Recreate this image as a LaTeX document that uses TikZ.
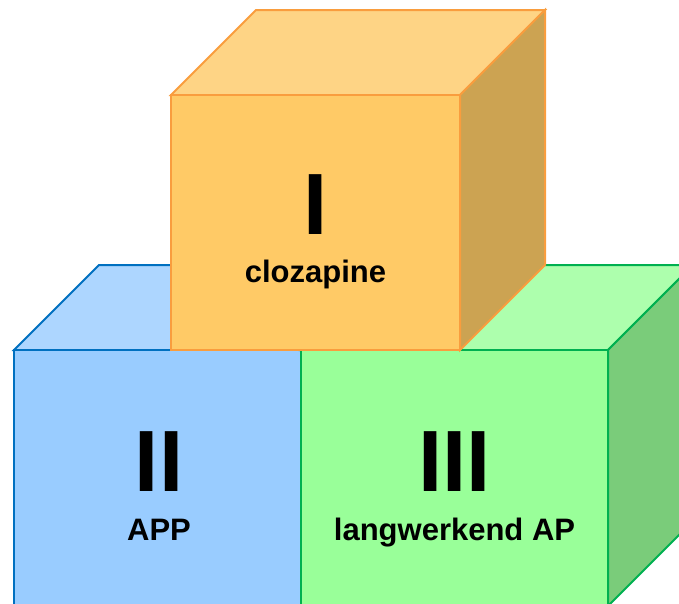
\documentclass[tikz,border=0pt]{standalone}
\usepackage{fontspec}
\setmainfont{Liberation Sans}
\definecolor{ofront}{HTML}{FFCA66}
\definecolor{otop}{HTML}{FED485}
\definecolor{oside}{HTML}{CCA352}
\definecolor{oline}{HTML}{F99D3E}
\definecolor{bfront}{HTML}{99CCFF}
\definecolor{btop}{HTML}{ADD6FF}
\definecolor{bline}{HTML}{0070C0}
\definecolor{gfront}{HTML}{99FF99}
\definecolor{gtop}{HTML}{ADFFAD}
\definecolor{gside}{HTML}{7ACC7A}
\definecolor{gline}{HTML}{00B050}
\tikzset{
  face/.style={line width=2pt, line join=miter},
  numeral/.style={font=\fontsize{87}{87}\selectfont\bfseries, anchor=base, inner sep=0pt},
  label/.style={font=\fontsize{31}{31}\selectfont\bfseries, anchor=base, inner sep=0pt}
}
\begin{document}
\begin{tikzpicture}[x=1pt,y=-1pt]
\useasboundingbox (0,0) rectangle (679,603);
\clip (0,0) rectangle (679,603);
% blue cube (II)
\draw[face, draw=bline, fill=btop] (14,350) -- (99,265) -- (388,265) -- (303,350) -- cycle;
\draw[face, draw=bline, fill=bfront] (14,350) rectangle (303,606);
% green cube (III)
\draw[face, draw=gline, fill=gtop] (301,350) -- (386,265) -- (693,265) -- (608,350) -- cycle;
\draw[face, draw=gline, fill=gside] (608,350) -- (693,265) -- (693,521) -- (608,606) -- cycle;
\draw[face, draw=gline, fill=gfront] (301,350) rectangle (608,606);
% orange cube (I)
\draw[face, draw=oline, fill=otop] (171,95) -- (256,10) -- (545,10) -- (460,95) -- cycle;
\draw[face, draw=oline, fill=oside] (460,95) -- (545,10) -- (545,265) -- (460,350) -- cycle;
\draw[face, draw=oline, fill=ofront] (171,95) rectangle (460,350);
% texts
\node[numeral] (n1) at (315.5,234) {I};
\node[label] (l1) at (315.5,282) {clozapine};
\node[numeral] (n2) at (159,491) {II};
\node[label] (l2) at (159,540) {APP};
\node[numeral] (n3) at (454.5,491) {III};
\node[label] (l3) at (454.5,540) {langwerkend AP};
\end{tikzpicture}
\end{document}
